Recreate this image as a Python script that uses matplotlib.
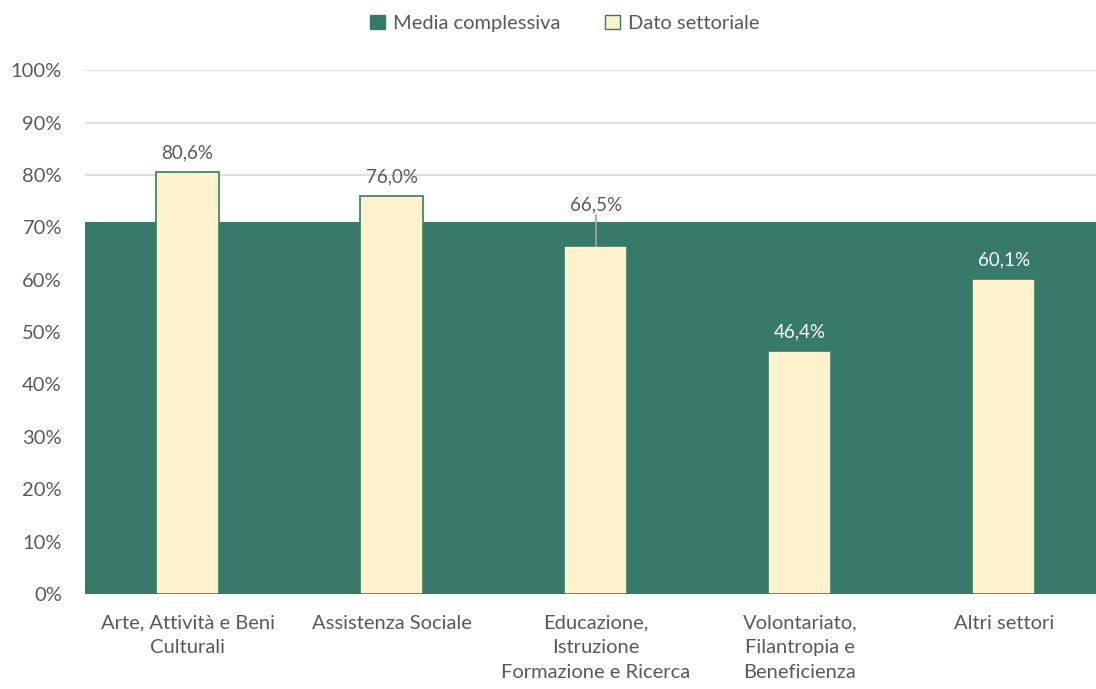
# Quota per settore vs media complessiva: barre settoriali sovrapposte
# a una fascia verde continua che rappresenta la media.

import matplotlib
matplotlib.use("Agg")

import matplotlib.pyplot as plt
from matplotlib.patches import Patch
import numpy as np

plt.rcParams["font.family"] = ["Lato", "DejaVu Sans"]

categories = [
    "Arte, Attività e Beni\nCulturali",
    "Assistenza Sociale",
    "Educazione,\nIstruzione\nFormazione e Ricerca",
    "Volontariato,\nFilantropia e\nBeneficienza",
    "Altri settori",
]
media = [71.1, 71.1, 71.1, 71.1, 71.1]
settore = [80.6, 76.0, 66.5, 46.4, 60.1]

GREEN = "#387A69"
CREAM = "#FFF2CC"
TXT = "#595959"
FS = 14.5

fig, ax = plt.subplots(figsize=(10.96, 6.89), dpi=100)
fig.subplots_adjust(left=0.078, right=1.009, top=0.898, bottom=0.138)

x = np.arange(len(categories))
ax.bar(x, media, width=1.0, color=GREEN, zorder=2)
ax.bar(x, settore, width=0.31, color=CREAM, edgecolor=GREEN, linewidth=1.2, zorder=3)

for xi, v, m in zip(x, settore, media):
    label = f"{v:.1f}%".replace(".", ",")
    if v < m - 8:
        ax.text(xi, v + 2.0, label, ha="center", va="bottom", color="white", fontsize=FS - 1, zorder=4)
    elif v < m:
        # label sits above the band, with a leader line down to the bar
        ax.text(xi, m + 1.6, label, ha="center", va="bottom", color=TXT, fontsize=FS - 1, zorder=4)
        ax.plot([xi, xi], [v, m + 1.3], color="#A6A6A6", lw=1.2, zorder=4)
    else:
        ax.text(xi, v + 2.0, label, ha="center", va="bottom", color=TXT, fontsize=FS - 1, zorder=4)

ax.set_xlim(-0.5, len(categories) - 0.5)
ax.set_ylim(0, 100)
ax.set_yticks(np.arange(0, 101, 10))
ax.set_yticklabels([f"{t}%" for t in range(0, 101, 10)])
ax.set_xticks(x)
ax.set_xticklabels(categories)
for lbl in ax.get_xticklabels():
    lbl.set_linespacing(1.55)
ax.tick_params(axis="both", length=0, colors=TXT, labelsize=FS)
ax.tick_params(axis="y", pad=17)
ax.tick_params(axis="x", pad=15)
ax.grid(axis="y", color="#D9D9D9", lw=1.2, zorder=0)
for s in ax.spines.values():
    s.set_visible(False)
ax.axhline(0, color="#D9D9D9", lw=1.2, zorder=1)

handles = [
    Patch(facecolor=GREEN, edgecolor=GREEN, label="Media complessiva"),
    Patch(facecolor=CREAM, edgecolor=GREEN, label="Dato settoriale"),
]
leg = fig.legend(handles=handles, loc="upper center", bbox_to_anchor=(0.515, 1.005), ncol=2,
                 frameon=False, fontsize=FS, handlelength=0.75, handleheight=0.75,
                 columnspacing=2.2, handletextpad=0.4)
for t in leg.get_texts():
    t.set_color(TXT)

fig.savefig("out.png", dpi=100)
